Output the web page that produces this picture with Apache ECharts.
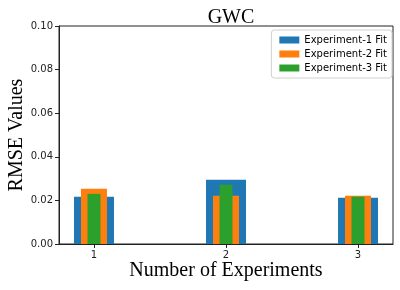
<!DOCTYPE html>
<html><head><meta charset="utf-8">
<script src="https://cdn.jsdelivr.net/npm/echarts@6/dist/echarts.min.js"></script>
<style>html,body{margin:0;padding:0;background:#fff}#c{width:400px;height:290px}</style>
</head><body><div id="c"></div>
<script>
var categories = [1, 2, 3];
var exp1 = [0.0217, 0.0295, 0.0212];
var exp2 = [0.0253, 0.0221, 0.0221];
var exp3 = [0.0230, 0.0272, 0.0217];
var seriesNames = ['Experiment-1 Fit', 'Experiment-2 Fit', 'Experiment-3 Fit'];
var colors = ['#1f77b4', '#ff7f0e', '#2ca02c'];

function pairs(vals) { return categories.map(function (c, i) { return [c, vals[i]]; }); }
var xmin = 0.735, xmax = 3.265;
function xa(show) {
  return {
    type: 'value', min: xmin, max: xmax, show: show, gridIndex: 0,
    axisLine: { show: true, lineStyle: { color: '#222', width: 1 } },
    axisTick: { show: true, length: 4, customValues: categories, lineStyle: { color: '#222' } },
    axisLabel: { customValues: categories, color: '#222', fontFamily: 'DejaVu Sans', fontSize: 10, margin: 6 },
    splitLine: { show: false }
  };
}
var chart = echarts.init(document.getElementById('c'), null, { renderer: 'canvas' });
chart.setOption({
  animation: false,
  title: { text: 'GWC', left: 226, textAlign: 'center', top: 3,
    textStyle: { fontFamily: 'Liberation Serif', fontSize: 20, fontWeight: 'normal', color: '#000' } },
  grid: { left: 59, right: 7, top: 26, bottom: 46, outerBoundsMode: 'none', containLabel: false,
    show: true, borderColor: '#222', borderWidth: 1, backgroundColor: 'transparent' },
  legend: {
    orient: 'vertical', right: 8, top: 30, itemWidth: 20, itemHeight: 7, itemGap: 4,
    icon: 'rect', borderColor: '#d0d0d0', borderWidth: 1, borderRadius: 3, padding: [5, 5, 5, 8],
    textStyle: { fontFamily: 'DejaVu Sans', fontSize: 10, color: '#000' },
    data: seriesNames
  },
  xAxis: [xa(true), xa(false), xa(false)],
  yAxis: {
    type: 'value', min: 0, max: 0.1, interval: 0.02,
    axisLine: { show: true, lineStyle: { color: '#222', width: 1 } },
    axisTick: { show: true, length: 4, lineStyle: { color: '#222' } },
    axisLabel: { color: '#222', fontFamily: 'DejaVu Sans', fontSize: 10, margin: 6,
      formatter: function (v) { return v.toFixed(2); } },
    splitLine: { show: false }
  },
  series: [
    { name: seriesNames[0], type: 'bar', xAxisIndex: 0, barWidth: 40, data: pairs(exp1), itemStyle: { color: colors[0] } },
    { name: seriesNames[1], type: 'bar', xAxisIndex: 1, barWidth: 26, data: pairs(exp2), itemStyle: { color: colors[1] } },
    { name: seriesNames[2], type: 'bar', xAxisIndex: 2, barWidth: 13, data: pairs(exp3), itemStyle: { color: colors[2] } }
  ],
  graphic: [{
    type: 'text', x: 226, y: 261,
    style: { text: 'Number of Experiments', align: 'center', fontFamily: 'Liberation Serif', fontSize: 20, fill: '#000' }
  }, {
    type: 'text', x: 17, y: 135, rotation: Math.PI / 2,
    style: { text: 'RMSE Values', align: 'center', verticalAlign: 'middle', fontFamily: 'Liberation Serif', fontSize: 20, fill: '#000' }
  }]
});
</script></body></html>
